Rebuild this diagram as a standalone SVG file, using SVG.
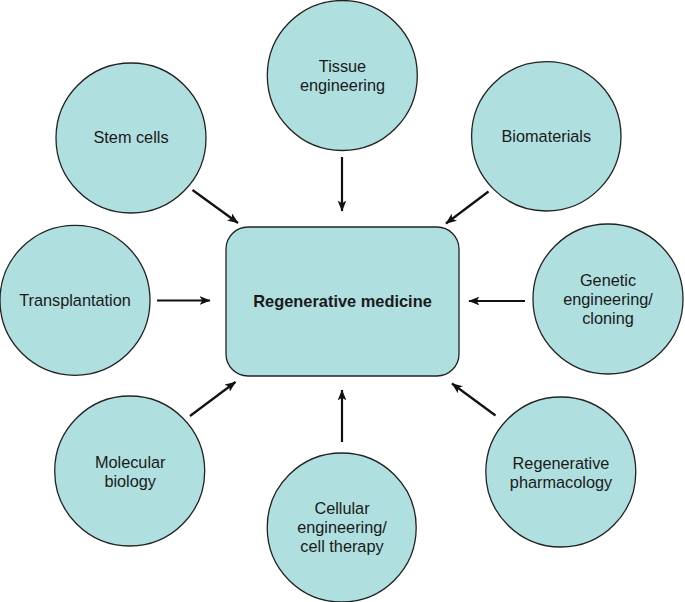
<svg xmlns="http://www.w3.org/2000/svg" width="685" height="602" viewBox="0 0 685 602">
<style>
.node{fill:#b0dfe0;stroke:#222;stroke-width:1.3}
.t{font-family:"Liberation Sans",Arial,sans-serif;font-size:16.3px;fill:#1a1a1a;text-anchor:middle}
.b{font-weight:bold;font-size:16.4px}
.c{stroke:#111;stroke-width:2.2;fill:none;marker-end:url(#ah)}
</style>
<defs>
<marker id="ah" viewBox="0 0 10 8" refX="9.5" refY="4" markerWidth="5" markerHeight="4" orient="auto" markerUnits="strokeWidth">
<path d="M0,0 L10,4 L0,8 L2.5,4 Z" fill="#111"/>
</marker>
</defs>
<rect width="685" height="602" fill="#fff"/>
<g id="connectors">
<line class="c" x1="342" y1="157" x2="342" y2="211"/>
<line class="c" x1="192.5" y1="190" x2="238" y2="223"/>
<line class="c" x1="488.5" y1="191.5" x2="446" y2="223.5"/>
<line class="c" x1="157" y1="300.5" x2="210" y2="300.5"/>
<line class="c" x1="525" y1="301" x2="469" y2="301"/>
<line class="c" x1="190" y1="416" x2="235.5" y2="382"/>
<line class="c" x1="342" y1="442" x2="342" y2="390"/>
<line class="c" x1="495.5" y1="415.5" x2="452" y2="383.5"/>
</g>
<g id="regenerative-medicine">
<rect class="node" x="226" y="227" width="233" height="149" rx="22" ry="22"/>
<text class="t b" x="342.5" y="306.5">Regenerative medicine</text>
</g>
<g id="tissue-engineering">
<circle class="node" cx="342.3" cy="75.5" r="75"/>
<text class="t" x="342.5" y="71.5">Tissue</text>
<text class="t" x="342.5" y="90.5">engineering</text>
</g>
<g id="stem-cells">
<circle class="node" cx="131" cy="138" r="75"/>
<text class="t" x="131" y="143">Stem cells</text>
</g>
<g id="biomaterials">
<circle class="node" cx="546.3" cy="136.3" r="74.7"/>
<text class="t" x="546.3" y="142">Biomaterials</text>
</g>
<g id="transplantation">
<circle class="node" cx="75" cy="300.3" r="75"/>
<text class="t" x="75" y="306">Transplantation</text>
</g>
<g id="genetic-engineering">
<circle class="node" cx="608" cy="299" r="75"/>
<text class="t" x="608" y="285.5">Genetic</text>
<text class="t" x="608" y="304.5">engineering/</text>
<text class="t" x="608" y="323.5">cloning</text>
</g>
<g id="molecular-biology">
<circle class="node" cx="129.7" cy="471" r="75"/>
<text class="t" x="130.2" y="467.5">Molecular</text>
<text class="t" x="130.2" y="486.5">biology</text>
</g>
<g id="cellular-engineering">
<circle class="node" cx="341.7" cy="527.5" r="74.5"/>
<text class="t" x="342" y="514">Cellular</text>
<text class="t" x="342" y="533">engineering/</text>
<text class="t" x="342" y="552">cell therapy</text>
</g>
<g id="regenerative-pharmacology">
<circle class="node" cx="560.8" cy="472" r="75"/>
<text class="t" x="561" y="469">Regenerative</text>
<text class="t" x="561" y="488">pharmacology</text>
</g>
</svg>
